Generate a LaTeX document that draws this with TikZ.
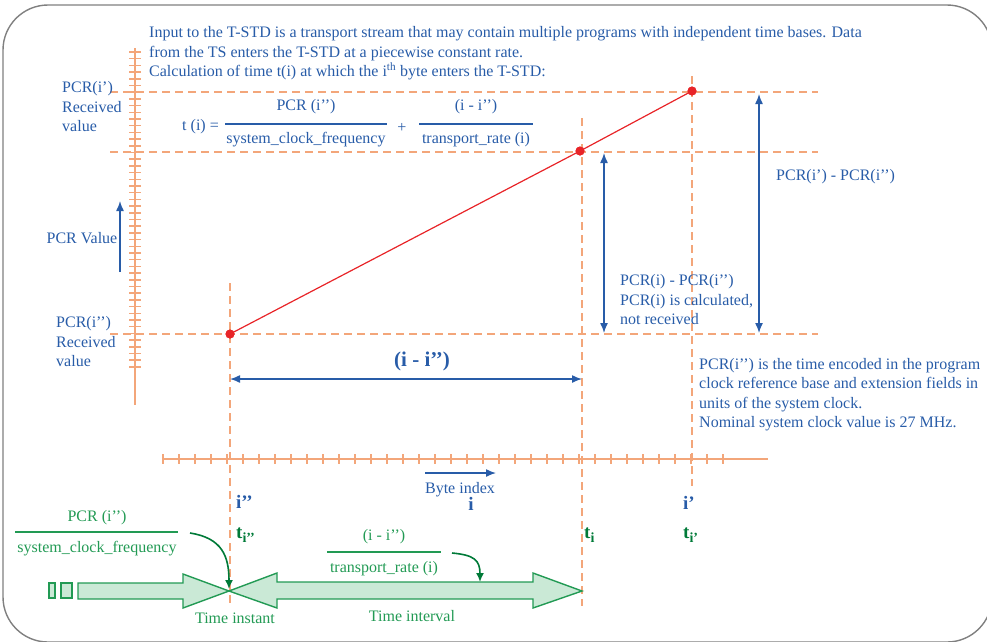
\documentclass[tikz,border=0pt]{standalone}
\usepackage{fontspec}
\setmainfont{Liberation Serif}
\usetikzlibrary{positioning}
\usetikzlibrary{arrows.meta}
\definecolor{pcrblue}{RGB}{40,92,168}
\definecolor{gridorange}{RGB}{243,166,122}
\definecolor{dotred}{RGB}{232,36,40}
\definecolor{timegreen}{RGB}{34,154,84}
\definecolor{darkgreen}{RGB}{0,122,56}
\definecolor{lightgreen}{RGB}{202,233,214}
\tikzset{>={Latex[length=10pt,width=8pt]}}
\tikzstyle{txt} = [text=pcrblue, font=\fontsize{16}{19.5}\selectfont, inner sep=0pt, align=left]
\tikzstyle{gtxt} = [text=timegreen, font=\fontsize{16}{19.5}\selectfont, inner sep=0pt]
\tikzstyle{bigidx} = [text=pcrblue, font=\bfseries\fontsize{19}{20}\selectfont, inner sep=0pt]
\tikzstyle{tidx} = [text=darkgreen, font=\bfseries\fontsize{19}{20}\selectfont, inner sep=0pt]
\tikzstyle{pcrdot} = [circle, fill=dotred, inner sep=0pt, minimum size=9pt]
\tikzstyle{gridline} = [draw=gridorange, line width=1.8pt, dash pattern=on 8pt off 5pt]
\tikzstyle{axisline} = [draw=gridorange, line width=1.8pt]
\tikzstyle{dimarrow} = [draw=pcrblue, line width=1.4pt]
\tikzstyle{blockarrow} = [draw=timegreen, fill=lightgreen, line width=1.4pt]
\tikzstyle{curvearrow} = [draw=darkgreen, line width=1.6pt, ->, >={Latex[length=9pt,width=8pt]}]
\newcommand{\sub}[1]{\raisebox{-0.45ex}{\fontsize{14}{14}\selectfont #1}}

\begin{document}
\begin{tikzpicture}[x=1pt, y=-1pt]
\useasboundingbox (0,0) rectangle (987,641);
\draw [draw=gray, line width=1.4pt, rounded corners=45pt] (3,5) rectangle (992,642);

% dashed grid
\coordinate (hA1) at (110,92);  \coordinate (hA2) at (818,92);
\coordinate (hB1) at (110,152); \coordinate (hB2) at (818,152);
\coordinate (hC1) at (110,334); \coordinate (hC2) at (818,334);
\coordinate (vA1) at (230,283); \coordinate (vA2) at (230,606);
\coordinate (vB1) at (582,118); \coordinate (vB2) at (582,606);
\coordinate (vC1) at (692,76);  \coordinate (vC2) at (692,486);
\draw [gridline] (hA1) -- (hA2);
\draw [gridline] (hB1) -- (hB2);
\draw [gridline] (hC1) -- (hC2);
\draw [gridline] (vA1) -- (vA2);
\draw [gridline] (vB1) -- (vB2);
\draw [gridline] (vC1) -- (vC2);

% axes
\coordinate (yTop) at (135,48);  \coordinate (yBot) at (135,405);
\coordinate (xLeft) at (162,459); \coordinate (xRight) at (768,459);
\draw [axisline] (yTop) -- (yBot);
\draw [axisline] (xLeft) -- (xRight);
\foreach \k in {0,...,47}
  \draw [axisline, line width=1.5pt] (129,52+\k*6.7) -- (141,52+\k*6.7);
\foreach \k in {0,...,35}
  \draw [axisline, line width=1.5pt] (163+\k*16,454) -- (163+\k*16,464);

% PCR line
\node [pcrdot] (pLow) at (230,334) {};
\node [pcrdot] (pMid) at (580,151) {};
\node [pcrdot] (pHigh) at (692,91) {};
\draw [draw=dotred, line width=1.2pt] (pLow.center) -- (pMid.center) -- (pHigh.center);
\node [pcrdot] at (pLow) {};
\node [pcrdot] at (pMid) {};
\node [pcrdot] at (pHigh) {};

% text at the top
\node [txt, anchor=north west] (intro) at (149,26.5)
  {Input to the T-STD is a transport stream that may contain multiple programs with independent time bases. Data\\
   from the TS enters the T-STD at a piecewise constant rate.\\
   Calculation of time t(i) at which the i\textsuperscript{th} byte enters the T-STD:};

% formula
\node [txt, anchor=east] (tEq) at (219,127) {t (i) =};
\node [txt] (num1) at (306,107) {PCR (i’’)};
\node [txt] (den1) at (306,140) {system\_clock\_frequency};
\coordinate (bar1L) at (225,124); \coordinate (bar1R) at (387,124);
\draw [dimarrow, line width=1.2pt] (bar1L) -- (bar1R);
\node [txt] (plus) at (402,128) {+};
\node [txt] (num2) at (476,107) {(i - i’’)};
\node [txt] (den2) at (476,140) {transport\_rate (i)};
\coordinate (bar2L) at (419,124); \coordinate (bar2R) at (533,124);
\draw [dimarrow, line width=1.2pt] (bar2L) -- (bar2R);

% left labels
\node [txt, anchor=west] (recTop) at (62,107) {PCR(i’)\\Received\\value};
\node [txt, anchor=west] (recLow) at (56,342) {PCR(i’’)\\Received\\value};
\node [txt] (pcrValue) at (82,238) {PCR Value};
\coordinate (upFrom) at (120,272); \coordinate (upTo) at (120,201);
\draw [dimarrow, ->] (upFrom) -- (upTo);

% measures
\coordinate (mA1) at (604,153); \coordinate (mA2) at (604,333);
\coordinate (mB1) at (759,94);  \coordinate (mB2) at (759,333);
\coordinate (mC1) at (230,379); \coordinate (mC2) at (582,379);
\draw [dimarrow, <->] (mA1) -- (mA2);
\draw [dimarrow, <->] (mB1) -- (mB2);
\draw [dimarrow, <->] (mC1) -- (mC2);
\node [txt, font=\bfseries\fontsize{21}{21}\selectfont] (diffIdx) at (422,361) {(i - i’’)};
\node [txt, anchor=west] (diffFull) at (776,177) {PCR(i’) - PCR(i’’)};
\node [txt, anchor=west] (diffCalc) at (620,300) {PCR(i) - PCR(i’’)\\PCR(i) is calculated,\\not received};
\node [txt, anchor=north west] (note) at (699,358)
  {PCR(i’’) is the time encoded in the program\\
   clock reference base and extension fields in\\
   units of the system clock.\\
   Nominal system clock value is 27 MHz.};

% byte index
\coordinate (byteFrom) at (425,473); \coordinate (byteTo) at (496,473);
\draw [dimarrow, ->] (byteFrom) -- (byteTo);
\node [txt] (byteIdx) at (460,490) {Byte index};
\node [bigidx] (iMid) at (471,504) {i};
\node [bigidx, anchor=west] (iLow) at (236,502) {i’’};
\node [bigidx, anchor=west] (iHigh) at (683,503) {i’};
\node [tidx, anchor=west] (tLow) at (236,535) {t\sub{i’’}};
\node [tidx, anchor=west] (tMid) at (584,535) {t\sub{i}};
\node [tidx, anchor=west] (tHigh) at (683,535) {t\sub{i’}};

% time line
\draw [blockarrow] (49,583) rectangle (55,598);
\draw [blockarrow] (61,583) rectangle (72,598);
\draw [blockarrow] (78,583) -- (183,583) -- (183,574) -- (229,591)
  -- (183,608) -- (183,599) -- (78,599) -- cycle;
\draw [blockarrow] (229,591) -- (277,573) -- (277,582) -- (533,582) -- (533,573)
  -- (582,591) -- (533,608) -- (533,599) -- (277,599) -- (277,608) -- cycle;
\coordinate (instant) at (229,589);
\coordinate (rateMark) at (480,582);

\node [gtxt] (gNum1) at (97,518) {PCR (i’’)};
\node [gtxt] (gDen1) at (97,549) {system\_clock\_frequency};
\coordinate (gBar1L) at (15,532); \coordinate (gBar1R) at (178,532);
\draw [draw=timegreen, line width=1.2pt] (gBar1L) -- (gBar1R);
\coordinate (gFrom1) at (190,533);
\draw [curvearrow] (gFrom1) .. controls (222,538) and (229,556) .. (instant);

\node [gtxt] (gNum2) at (384,537) {(i - i’’)};
\node [gtxt] (gDen2) at (384,569) {transport\_rate (i)};
\coordinate (gBar2L) at (327,552); \coordinate (gBar2R) at (441,552);
\draw [draw=timegreen, line width=1.2pt] (gBar2L) -- (gBar2R);
\coordinate (gFrom2) at (452,553);
\draw [curvearrow] (gFrom2) .. controls (474,555) and (480,560) .. (rateMark);

\node [gtxt] (tInstant) at (235,618) {Time instant};
\node [gtxt] (tInterval) at (412,616) {Time interval};
\end{tikzpicture}
\end{document}
